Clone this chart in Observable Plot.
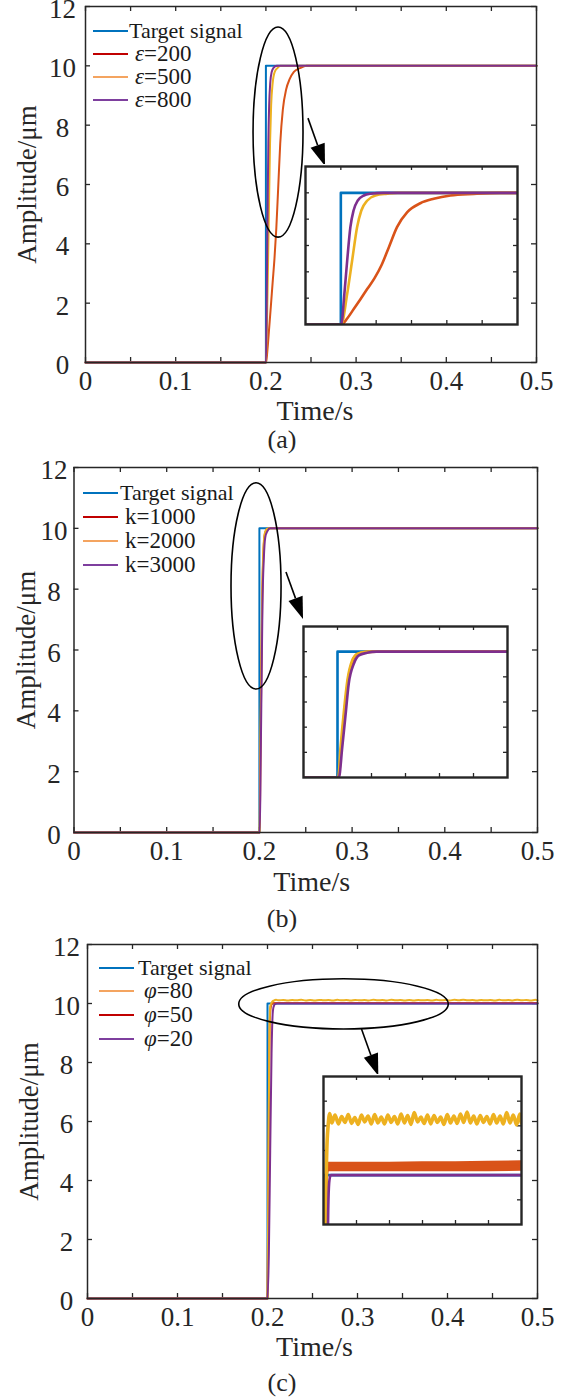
<!DOCTYPE html>
<html><head><meta charset="utf-8">
<script src="https://cdn.jsdelivr.net/npm/d3@7"></script>
<script src="https://cdn.jsdelivr.net/npm/@observablehq/plot@0.6"></script>
<style>
body{margin:0;background:#fff;}
#root{position:relative;width:564px;height:1399px;font-family:"Liberation Serif","Times New Roman",serif;color:#262626;overflow:hidden;background:#fff;}
.leg{position:absolute;line-height:19px;height:19px;white-space:nowrap;color:#1a1a1a;}
.sw{position:absolute;height:2.5px;width:35px;}
.cap{position:absolute;left:0;width:564px;text-align:center;font-size:26px;line-height:30px;}
</style></head><body><div id="root"></div>
<script>
// ---------------- data ----------------
const xTicks = [0,0.05,0.1,0.15,0.2,0.25,0.3,0.35,0.4,0.45,0.5];
const xTickLabels = [0,0.1,0.2,0.3,0.4,0.5];
const yTicks = [0,2,4,6,8,10,12];
const insetTicksX = [0.2,0.21,0.22,0.23,0.24];
const insetTicksY = [2,4,6,8,10];
const insetTicksXc = [0.25,0.3,0.35,0.4,0.45];
const insetTicksYc = [9.95,10,10.05,10.1,10.15];

const targetT = [0,0.2,0.2,0.5];
const targetV = [0,0,10,10];

// panel (a)
const legendA = ["Target signal","ε=200","ε=500","ε=800"];
const a200T = [0,0.2,0.2003,0.2015,0.2037,0.2055,0.2075,0.2095,0.2115,0.2136,0.2159,0.2188,0.2225,0.2263,0.2310,0.2376,0.2452,0.5];
const a200V = [0,0,0,0.35,1.19,1.9,2.71,3.5,4.5,5.87,7.39,8.53,9.21,9.55,9.80,9.92,10.0,10.0];
const a500T = [0,0.2,0.2001,0.2018,0.2032,0.2046,0.2058,0.2075,0.2098,0.2131,0.216,0.5];
const a500V = [0,0,0,2.33,4.86,7.39,8.66,9.42,9.80,9.93,10,10];
const a800T = [0,0.2,0.2001,0.2010,0.2018,0.2027,0.2036,0.2048,0.2065,0.2084,0.212,0.5];
const a800V = [0,0,0,2.33,4.86,7.39,8.66,9.42,9.80,9.93,10,10];

// panel (b)
const legendB = ["Target signal","k=1000","k=2000","k=3000"];
const b1000T = [0,0.2,0.2003,0.2011,0.2021,0.2031,0.2045,0.2060,0.2085,0.2115,0.5];
const b1000V = [0,0,0,2.41,5.32,7.71,9.30,9.83,9.98,10,10];
const b2000T = [0,0.2,0.2002,0.2009,0.2019,0.2029,0.2043,0.2058,0.2082,0.211,0.5];
const b2000V = [0,0,0,2.41,5.32,7.71,9.30,9.83,9.98,10,10];
const b3000T = [0,0.2,0.2004,0.2014,0.2024,0.2033,0.2048,0.2063,0.2087,0.2116,0.5];
const b3000V = [0,0,0,2.41,5.06,7.45,9.03,9.70,9.91,10,10];

// panel (c)
const legendC = ["Target signal","φ=80","φ=50","φ=20"];
const c80T = [0,0.2,0.201,0.202,0.203,0.205,0.207,0.2095,
  0.2125,0.2175,0.2225,0.2275,0.2325,0.2375,0.2425,0.2475,0.2525,0.2575,
  0.2625,0.2675,0.2725,0.2775,0.2825,0.2875,0.2925,0.2975,0.3025,0.3075,
  0.3125,0.3175,0.3225,0.3275,0.3325,0.3375,0.3425,0.3475,0.3525,0.3575,
  0.3625,0.3675,0.3725,0.3775,0.3825,0.3875,0.3925,0.3975,0.4025,0.4075,
  0.4125,0.4175,0.4225,0.4275,0.4325,0.4375,0.4425,0.4475,0.4525,0.4575,
  0.4625,0.4675,0.4725,0.4775,0.4825,0.4875,0.4925,0.4975,0.5];
const c80V = [0,0,4.5,8.5,9.9,10.05,10.10,10.125,
  10.106,10.122,10.104,10.119,10.107,10.123,10.105,10.117,10.103,10.122,
  10.108,10.120,10.104,10.123,10.106,10.118,10.104,10.122,10.107,10.119,
  10.104,10.124,10.106,10.121,10.103,10.127,10.108,10.118,10.105,10.122,
  10.104,10.121,10.107,10.118,10.103,10.123,10.106,10.120,10.105,10.124,
  10.107,10.128,10.106,10.120,10.104,10.121,10.107,10.119,10.104,10.123,
  10.106,10.120,10.104,10.127,10.106,10.122,10.102,10.124,10.105];
const c50T = [0,0.2,0.201,0.202,0.203,0.2045,0.206,0.208,0.5];
const c50V = [0,0,4.2,8.2,9.7,9.97,10.01,10.017,10.017];
const c50BandT = [0.207,0.25,0.3,0.35,0.4,0.45,0.5];
const c50BandLo = [10.007,10.007,10.007,10.007,10.007,10.007,10.008];
const c50BandHi = [10.026,10.026,10.026,10.027,10.027,10.028,10.029];
const c20T = [0,0.2,0.2015,0.203,0.2045,0.206,0.2075,0.209,0.211,0.5];
const c20V = [0,0,1.5,5.0,8.3,9.75,9.95,9.99,10.0,10.0];

// annotations (data units)
const ellipseA = {cx:0.214, cy:7.75, rx:0.0277, ry:3.54};
const arrowA = {x1:0.2472, y1:8.22, x2:0.2661, y2:6.61};
const ellipseB = {cx:0.1969, cy:8.09, rx:0.027, ry:3.39};
const arrowB = {x1:0.2292, y1:8.55, x2:0.2476, y2:7.0};
const ellipseC = {cx:0.285, cy:9.97, rx:0.1164, ry:0.85};
const arrowC = {x1:0.305, y1:9.12, x2:0.3237, y2:7.53};

// ---------------- styles ----------------
const INK = "#262626";
const BLUE = "#0072BD", ORED = "#D95319", YEL = "#EDB120", PURP = "#7E2F8E";
const LEG_RED = "#C00000", LEG_ORANGE = "#F4A460", LEG_PURP = "#7E3F9E";
const FONT = "'Liberation Serif','Times New Roman',serif";

const rows = (t, v) => t.map((d, i) => ({t: d, v: v[i]}));
const root = document.getElementById("root");

function ellipseMark(e) {
  return (index, {x, y}) => {
    const cx = x(e.cx), cy = y(e.cy);
    const rx = Math.abs(x(e.cx + e.rx) - cx), ry = Math.abs(y(e.cy + e.ry) - cy);
    const g = d3.create("svg:g");
    g.append("ellipse").attr("cx", cx).attr("cy", cy).attr("rx", rx).attr("ry", ry)
      .attr("fill", "none").attr("stroke", "#000").attr("stroke-width", 1.6);
    return g.node();
  };
}
function arrowMark(a) {
  return (index, {x, y}) => {
    const x1 = x(a.x1), y1 = y(a.y1), x2 = x(a.x2), y2 = y(a.y2);
    const dx = x2 - x1, dy = y2 - y1, L = Math.hypot(dx, dy), ux = dx / L, uy = dy / L;
    const hl = 22, hw = 7.5;
    const bx = x2 - ux * hl, by = y2 - uy * hl;
    const g = d3.create("svg:g");
    g.append("line").attr("x1", x1).attr("y1", y1).attr("x2", bx).attr("y2", by)
      .attr("stroke", "#000").attr("stroke-width", 1.6);
    g.append("path").attr("d", `M${x2},${y2}L${bx - uy * hw},${by + ux * hw}L${bx + uy * hw},${by - ux * hw}Z`)
      .attr("fill", "#000");
    return g.node();
  };
}

function lineMark(s, width, clip) {
  return Plot.line(s.data, {x: "t", y: "v", stroke: s.color, strokeWidth: width, clip,
    curve: s.smooth ? "monotone-x" : "linear"});
}

function mainPlot(cfg) {
  const W = 564;
  const plotW = W - cfg.mL - cfg.mR;
  const plotH = cfg.h - cfg.mT - cfg.mB;
  const tl = 5;
  const tk = {stroke: INK, strokeWidth: 1.3};
  const marks = [
    Plot.tickX(xTicks, {x: d => d, insetTop: plotH - tl, ...tk}),
    Plot.tickX(xTicks, {x: d => d, insetBottom: plotH - tl, ...tk}),
    Plot.tickY(yTicks, {y: d => d, insetRight: plotW - tl, ...tk}),
    Plot.tickY(yTicks, {y: d => d, insetLeft: plotW - tl, ...tk}),
    Plot.axisX(xTickLabels, {tickSize: 0, tickPadding: 8, fontSize: 27, label: null, tickFormat: d => String(d)}),
    Plot.axisY(yTicks, {tickSize: 0, tickPadding: cfg.ytPad, textAnchor: "middle", fontSize: 27, dy: 3, label: null, tickFormat: d => String(d)}),
    Plot.text(["Time/s"], {text: d => d, frameAnchor: "bottom", dy: cfg.xlabDy, dx: cfg.xlabDx, fontSize: 28, lineAnchor: "middle", textAnchor: "middle"}),
    Plot.text(["Amplitude/μm"], {text: d => d, frameAnchor: "left", dx: cfg.ylabDx, rotate: -90, fontSize: 27, lineAnchor: "middle", textAnchor: "middle"}),
    ...cfg.lines.map(s => lineMark(s, 2, false)),
    Plot.frame({stroke: INK, strokeWidth: 1.5}),
    ellipseMark(cfg.ellipse),
    arrowMark(cfg.arrow)
  ];
  const svg = Plot.plot({
    width: W, height: cfg.h,
    marginLeft: cfg.mL, marginRight: cfg.mR, marginTop: cfg.mT, marginBottom: cfg.mB,
    x: {domain: [0, 0.5]}, y: {domain: [0, 12]},
    style: {fontFamily: FONT, color: INK, background: "transparent", overflow: "visible"},
    marks
  });
  svg.style.position = "absolute";
  svg.style.left = "0px";
  svg.style.top = cfg.top + "px";
  root.appendChild(svg);
}

function insetPlot(cfg) {
  const pad = 2;
  const tl = 4;
  const tk = {stroke: INK, strokeWidth: 1.3};
  const marks = [
    Plot.tickX(cfg.tx, {x: d => d, insetTop: cfg.h - tl, ...tk}),
    Plot.tickX(cfg.tx, {x: d => d, insetBottom: cfg.h - tl, ...tk}),
    Plot.tickY(cfg.ty, {y: d => d, insetRight: cfg.w - tl, ...tk}),
    Plot.tickY(cfg.ty, {y: d => d, insetLeft: cfg.w - tl, ...tk}),
    ...(cfg.extra || []),
    ...cfg.lines.map(s => lineMark(s, s.insetWidth || 2.6, true)),
    Plot.frame({stroke: INK, strokeWidth: 2.4})
  ];
  const svg = Plot.plot({
    width: cfg.w + 2 * pad, height: cfg.h + 2 * pad, margin: pad,
    x: {domain: cfg.xd, axis: null}, y: {domain: cfg.yd, axis: null},
    style: {background: "#fff"},
    marks
  });
  svg.style.position = "absolute";
  svg.style.left = (cfg.left - pad) + "px";
  svg.style.top = (cfg.top - pad) + "px";
  root.appendChild(svg);
}

function legend(cfg) {
  cfg.labels.forEach((lab, i) => {
    const y = cfg.rows[i];
    const sw = document.createElement("div");
    sw.className = "sw";
    sw.style.left = cfg.swX + "px";
    sw.style.top = (y - 1.25) + "px";
    sw.style.background = cfg.colors[i];
    root.appendChild(sw);
    const t = document.createElement("div");
    t.className = "leg";
    t.style.left = cfg.textX[i] + "px";
    t.style.top = (y - 10) + "px";
    t.style.fontSize = (i === 0 ? cfg.fs0 : cfg.fs1) + "px";
    const first = lab[0];
    if (first === "ε" || first === "φ") {
      const it = document.createElement("i");
      it.textContent = first;
      t.appendChild(it);
      t.appendChild(document.createTextNode(lab.slice(1)));
    } else {
      t.textContent = lab;
    }
    root.appendChild(t);
  });
}
function caption(text, y) {
  const c = document.createElement("div");
  c.className = "cap";
  c.style.top = (y - 15) + "px";
  c.textContent = text;
  root.appendChild(c);
}

// ---------------- panel (a) ----------------
const linesA = [
  {data: rows(targetT, targetV), color: BLUE},
  {data: rows(a200T, a200V), color: ORED, smooth: true},
  {data: rows(a500T, a500V), color: YEL, smooth: true},
  {data: rows(a800T, a800V), color: PURP, smooth: true}
];
mainPlot({top: 0, h: 430, mL: 85, mR: 28, mT: 6, mB: 68, ytPad: 23, xlabDy: 49, xlabDx: 4, ylabDx: -58,
  lines: linesA, ellipse: ellipseA, arrow: arrowA});
insetPlot({left: 305, top: 166, w: 212, h: 158, xd: [0.19, 0.25], yd: [0, 12], tx: insetTicksX, ty: insetTicksY, lines: linesA});
legend({labels: legendA, colors: [BLUE, LEG_RED, LEG_ORANGE, LEG_PURP], rows: [31, 54, 77, 100], swX: 93, textX: [129, 135, 135, 135], fs0: 22, fs1: 23});
caption("(a)", 440);

// ---------------- panel (b) ----------------
const linesB = [
  {data: rows(targetT, targetV), color: BLUE},
  {data: rows(b1000T, b1000V), color: ORED, smooth: true},
  {data: rows(b2000T, b2000V), color: YEL, smooth: true},
  {data: rows(b3000T, b3000V), color: PURP, smooth: true}
];
mainPlot({top: 455, h: 445, mL: 73.5, mR: 27, mT: 12, mB: 68, ytPad: 20, xlabDy: 50, xlabDx: 6, ylabDx: -47.5,
  lines: linesB, ellipse: ellipseB, arrow: arrowB});
insetPlot({left: 303, top: 626, w: 204, h: 151, xd: [0.19, 0.25], yd: [0, 12], tx: insetTicksX, ty: insetTicksY, lines: linesB});
legend({labels: legendB, colors: [BLUE, LEG_RED, LEG_ORANGE, LEG_PURP], rows: [493, 517, 541, 565], swX: 82.5, textX: [120, 125, 125, 125], fs0: 22, fs1: 23});
caption("(b)", 919);

// ---------------- panel (c) ----------------
const linesC = [
  {data: rows(targetT, targetV), color: BLUE},
  {data: rows(c50T, c50V), color: ORED, smooth: true},
  {data: rows(c80T, c80V), color: YEL, smooth: true, insetWidth: 3.6},
  {data: rows(c20T, c20V), color: PURP, smooth: true}
];
mainPlot({top: 930, h: 440, mL: 87, mR: 27, mT: 14, mB: 72, ytPad: 21, xlabDy: 49, xlabDx: 2, ylabDx: -58.5,
  lines: linesC, ellipse: ellipseC, arrow: arrowC});
const bandC = c50BandT.map((t, i) => ({t, lo: c50BandLo[i], hi: c50BandHi[i]}));
insetPlot({left: 323, top: 1076, w: 198, h: 148, xd: [0.2, 0.5], yd: [9.9, 10.2], tx: insetTicksXc, ty: insetTicksYc,
  extra: [Plot.areaY(bandC, {x: "t", y1: "lo", y2: "hi", fill: ORED, clip: true})],
  lines: linesC});
legend({labels: legendC, colors: [BLUE, LEG_ORANGE, LEG_RED, LEG_PURP], rows: [968, 991, 1015, 1039], swX: 99, textX: [138, 144, 144, 144], fs0: 22, fs1: 23});
caption("(c)", 1383);
</script></body></html>
